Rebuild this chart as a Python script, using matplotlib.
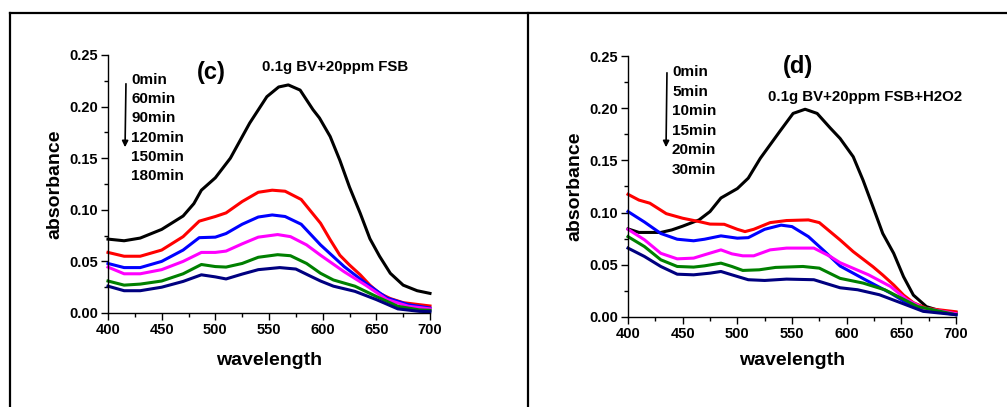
import numpy as np
import matplotlib
matplotlib.use("Agg")
import matplotlib.pyplot as plt
from matplotlib.lines import Line2D

plt.rcParams['font.family'] = ['Liberation Sans', 'DejaVu Sans']
plt.rcParams['font.weight'] = 'bold'

# ---------------- panel (c): 0.1g BV + 20ppm FSB ----------------
c_labels = ['0min', '60min', '90min', '120min', '150min', '180min']

c0_wl = [400, 415, 430, 450, 470, 480, 487, 500, 514, 532, 548, 559, 568, 579, 591, 597, 607, 616, 625, 635, 644, 653, 663, 675, 688, 700]
c0_ab = [0.0716, 0.070, 0.0726, 0.081, 0.094, 0.106, 0.119, 0.131, 0.150, 0.184, 0.2096, 0.219, 0.221, 0.216, 0.197, 0.189, 0.171, 0.148, 0.122, 0.0966, 0.072, 0.055, 0.0385, 0.027, 0.0216, 0.019]

c60_wl = [400, 415, 430, 450, 470, 485, 500, 510, 525, 540, 553, 565, 580, 598, 607, 616, 625, 635, 644, 653, 663, 675, 700]
c60_ab = [0.0587, 0.055, 0.055, 0.061, 0.074, 0.089, 0.0935, 0.097, 0.108, 0.117, 0.119, 0.118, 0.110, 0.087, 0.071, 0.056, 0.0465, 0.037, 0.027, 0.019, 0.014, 0.010, 0.0068]

c90_wl = [400, 415, 430, 450, 470, 485, 500, 510, 525, 540, 553, 565, 580, 598, 620, 640, 660, 680, 700]
c90_ab = [0.048, 0.044, 0.044, 0.050, 0.061, 0.073, 0.0735, 0.077, 0.086, 0.093, 0.095, 0.0935, 0.086, 0.066, 0.045, 0.029, 0.0145, 0.008, 0.0048]

c120_wl = [400, 415, 430, 450, 470, 487, 500, 510, 525, 540, 558, 570, 585, 598, 620, 640, 660, 680, 700]
c120_ab = [0.0445, 0.038, 0.038, 0.042, 0.050, 0.0587, 0.0587, 0.060, 0.067, 0.0735, 0.076, 0.074, 0.066, 0.056, 0.040, 0.027, 0.013, 0.0065, 0.004]

c150_wl = [400, 415, 430, 450, 470, 487, 500, 510, 525, 540, 558, 570, 585, 598, 610, 630, 650, 670, 690, 700]
c150_ab = [0.031, 0.027, 0.028, 0.031, 0.038, 0.047, 0.045, 0.0445, 0.048, 0.054, 0.0565, 0.0555, 0.048, 0.0385, 0.032, 0.026, 0.016, 0.0065, 0.003, 0.0026]

c180_wl = [400, 415, 430, 450, 470, 487, 500, 510, 525, 540, 560, 575, 588, 598, 610, 630, 650, 670, 690, 700]
c180_ab = [0.026, 0.0216, 0.0216, 0.025, 0.0306, 0.037, 0.035, 0.033, 0.0377, 0.042, 0.044, 0.0426, 0.036, 0.031, 0.026, 0.021, 0.013, 0.004, 0.0016, 0.0013]

# ---------------- panel (d): 0.1g BV + 20ppm FSB + H2O2 ----------------
d_labels = ['0min', '5min', '10min', '15min', '20min', '30min']

d0_wl = [400, 410, 430, 440, 450, 465, 475, 485, 500, 510, 521, 539, 551, 562, 573, 585, 594, 606, 615, 624, 633, 643, 652, 661, 673, 685, 700]
d0_ab = [0.0844, 0.081, 0.081, 0.0834, 0.087, 0.093, 0.101, 0.114, 0.123, 0.133, 0.152, 0.178, 0.195, 0.199, 0.195, 0.181, 0.171, 0.1535, 0.131, 0.1057, 0.080, 0.061, 0.0386, 0.021, 0.0099, 0.006, 0.0041]

d5_wl = [400, 410, 420, 435, 450, 465, 475, 488, 500, 507, 515, 530, 545, 565, 575, 594, 606, 624, 633, 643, 652, 661, 673, 700]
d5_ab = [0.1175, 0.112, 0.109, 0.099, 0.0946, 0.0914, 0.089, 0.0888, 0.084, 0.0818, 0.084, 0.0904, 0.0924, 0.093, 0.0904, 0.0738, 0.0626, 0.0482, 0.0402, 0.0307, 0.021, 0.0137, 0.0083, 0.005]

d10_wl = [400, 415, 430, 445, 460, 470, 485, 500, 510, 525, 540, 550, 565, 580, 594, 620, 640, 655, 670, 700]
d10_ab = [0.101, 0.091, 0.080, 0.0745, 0.073, 0.0745, 0.0777, 0.0755, 0.076, 0.084, 0.088, 0.0866, 0.077, 0.0627, 0.0488, 0.034, 0.023, 0.0134, 0.007, 0.0022]

d15_wl = [400, 415, 430, 445, 460, 470, 485, 495, 505, 515, 530, 545, 570, 585, 594, 620, 640, 655, 670, 700]
d15_ab = [0.084, 0.074, 0.061, 0.0557, 0.0564, 0.0596, 0.0643, 0.0605, 0.0586, 0.0586, 0.0643, 0.066, 0.066, 0.058, 0.052, 0.0404, 0.0293, 0.0166, 0.0086, 0.0032]

d20_wl = [400, 415, 430, 445, 460, 470, 485, 495, 505, 520, 535, 560, 575, 594, 615, 635, 650, 665, 700]
d20_ab = [0.077, 0.0675, 0.0548, 0.0484, 0.0478, 0.049, 0.0516, 0.0484, 0.0446, 0.0452, 0.0475, 0.0484, 0.0468, 0.037, 0.0325, 0.026, 0.018, 0.010, 0.0022]

d30_wl = [400, 415, 430, 445, 460, 475, 485, 495, 510, 525, 545, 570, 594, 610, 630, 650, 670, 700]
d30_ab = [0.066, 0.058, 0.0484, 0.041, 0.0404, 0.042, 0.0436, 0.0404, 0.0357, 0.035, 0.0363, 0.0357, 0.028, 0.0261, 0.0213, 0.0134, 0.0054, 0.0022]

colors = ['black', '#ff0000', '#0000ff', '#ff00ff', '#008000', '#000080']

c_series = [(c0_wl, c0_ab), (c60_wl, c60_ab), (c90_wl, c90_ab),
            (c120_wl, c120_ab), (c150_wl, c150_ab), (c180_wl, c180_ab)]
d_series = [(d0_wl, d0_ab), (d5_wl, d5_ab), (d10_wl, d10_ab),
            (d15_wl, d15_ab), (d20_wl, d20_ab), (d30_wl, d30_ab)]

fig = plt.figure(figsize=(10.07, 4.07), dpi=100)
W, H = 1007, 407


def px_axes(x0, y0, x1, y1):
    # pixel box (top-left origin) -> axes
    return fig.add_axes([x0 / W, 1 - y1 / H, (x1 - x0) / W, (y1 - y0) / H])


def style(ax, xpad):
    ax.set_xlim(400, 700)
    ax.set_ylim(0, 0.25)
    ax.set_xticks([400, 450, 500, 550, 600, 650, 700])
    ax.set_xticks(np.arange(425, 700, 50), minor=True)
    ax.set_yticks([0, 0.05, 0.10, 0.15, 0.20, 0.25])
    ax.set_yticks(np.arange(0.025, 0.25, 0.05), minor=True)
    ax.set_yticklabels(['0.00', '0.05', '0.10', '0.15', '0.20', '0.25'])
    ax.spines['top'].set_visible(False)
    ax.spines['right'].set_visible(False)
    for s in ['left', 'bottom']:
        ax.spines[s].set_linewidth(1.0)
    ax.tick_params(which='major', direction='out', length=5, width=1, labelsize=10.5, pad=2)
    ax.tick_params(which='minor', direction='out', length=3, width=1)
    for lab in ax.get_xticklabels() + ax.get_yticklabels():
        lab.set_fontweight('bold')
    ax.set_xlabel('wavelength', fontsize=14, fontweight='bold', labelpad=xpad)
    ax.set_ylabel('absorbance', fontsize=14, fontweight='bold', labelpad=4)


# panel (c)
ax1 = px_axes(108, 55, 430, 313)
for (wl, ab), col in zip(c_series, colors):
    ax1.plot(wl, ab, color=col, lw=2.2, solid_joinstyle='round', clip_on=False)
style(ax1, 11)
ax1.annotate('', xy=(125 / W, 1 - 150 / H), xytext=(126 / W, 1 - 81 / H),
             xycoords='figure fraction',
             arrowprops=dict(arrowstyle='-|>', color='black', lw=1.2, mutation_scale=9))
for i, lab in enumerate(c_labels):
    fig.text(131 / W, 1 - (80 + i * 19.2) / H, lab, fontsize=11, fontweight='bold',
             ha='left', va='center')
fig.text(211 / W, 1 - 72 / H, '(c)', fontsize=17, fontweight='bold', ha='center', va='center')
fig.text(262 / W, 1 - 67 / H, '0.1g BV+20ppm FSB', fontsize=10.8, fontweight='bold',
         ha='left', va='center')

# panel (d)
ax2 = px_axes(628, 56, 956, 317)
for (wl, ab), col in zip(d_series, colors):
    ax2.plot(wl, ab, color=col, lw=2.2, solid_joinstyle='round', clip_on=False)
style(ax2, 8)
ax2.annotate('', xy=(666 / W, 1 - 150 / H), xytext=(667 / W, 1 - 70 / H),
             xycoords='figure fraction',
             arrowprops=dict(arrowstyle='-|>', color='black', lw=1.2, mutation_scale=9))
for i, lab in enumerate(d_labels):
    fig.text(672 / W, 1 - (72 + i * 19.6) / H, lab, fontsize=11, fontweight='bold',
             ha='left', va='center')
fig.text(798 / W, 1 - 66 / H, '(d)', fontsize=17, fontweight='bold', ha='center', va='center')
fig.text(768 / W, 1 - 97 / H, '0.1g BV+20ppm FSB+H2O2', fontsize=10.8, fontweight='bold',
         ha='left', va='center')

# table frame around the two panels
frame = dict(color='black', lw=1.6, transform=fig.transFigure)
fig.add_artist(Line2D([10 / W, 1.0], [1 - 13 / H, 1 - 13 / H], **frame))
fig.add_artist(Line2D([10 / W, 10 / W], [1 - 13 / H, 0], **frame))
fig.add_artist(Line2D([528 / W, 528 / W], [1 - 13 / H, 0], **frame))

fig.savefig('out.png', dpi=100)
